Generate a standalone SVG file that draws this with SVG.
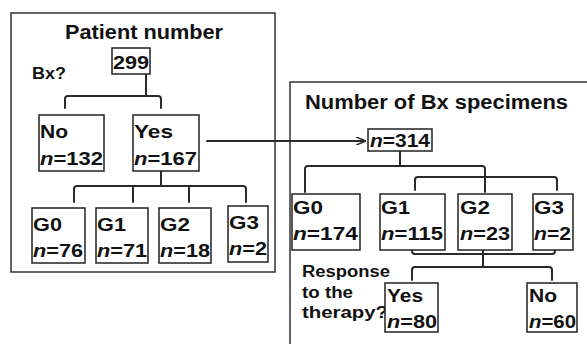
<svg xmlns="http://www.w3.org/2000/svg" width="587" height="344" viewBox="0 0 587 344">
<defs>
<style>
.panel{fill:none;stroke:#333;stroke-width:1.5}
.box{fill:#fff;stroke:#222;stroke-width:1.5}
.ln{fill:none;stroke:#2a2a2a;stroke-width:2;stroke-linejoin:round;stroke-linecap:round}
.t{font-family:"Liberation Sans",Arial,sans-serif;font-weight:bold;font-size:19px;fill:#111}
.ttl{font-family:"Liberation Sans",Arial,sans-serif;font-weight:bold;font-size:20px;fill:#111}
.sm{font-family:"Liberation Sans",Arial,sans-serif;font-weight:bold;font-size:16px;fill:#111}
.i{font-style:italic}
</style>
<marker id="ah" markerWidth="10" markerHeight="8" refX="9" refY="4" orient="auto" markerUnits="userSpaceOnUse">
<path d="M0,0 L10,4 L0,8" fill="none" stroke="#2a2a2a" stroke-width="1.6"/>
</marker>
</defs>
<rect width="587" height="344" fill="#fff"/>

<g id="panel-left">
<rect class="panel" x="11" y="13" width="264" height="259"/>
<text class="ttl" x="65" y="39" textLength="158" lengthAdjust="spacingAndGlyphs">Patient number</text>
<text class="sm" x="32" y="79" textLength="34" lengthAdjust="spacingAndGlyphs">Bx?</text>
</g>

<g id="panel-right">
<rect class="panel" x="290" y="82" width="310" height="280"/>
<text class="ttl" x="305" y="109" textLength="263" lengthAdjust="spacingAndGlyphs">Number of Bx specimens</text>
<text class="sm" x="302" y="277" textLength="88" lengthAdjust="spacingAndGlyphs">Response</text>
<text class="sm" x="302" y="298" textLength="51" lengthAdjust="spacingAndGlyphs">to the</text>
<text class="sm" x="302" y="318" textLength="86" lengthAdjust="spacingAndGlyphs">therapy?</text>
</g>

<g id="connectors">
<path class="ln" d="M146,74 V96 M65,108 V99 Q65,96 68,96 H158 Q161,96 161,99 V108"/>
<path class="ln" d="M161,171 V186 M74,202 V189 Q74,186 77,186 H243 Q246,186 246,189 V202 M133,186 V202 M189,186 V202"/>
<path class="ln" d="M207,141 H365" stroke-width="1.8" marker-end="url(#ah)"/>
<path class="ln" d="M400,151 V166 M305,192 V169 Q305,166 308,166 H482 Q485,166 485,169 V192 M415,190 V180 Q415,177 418,177 H554 Q557,177 557,180 V190"/>
<path class="ln" d="M412,250 V251 Q412,254 415,254 H552 Q555,254 555,251 V250 M483,250 V267 M412,280 V270 Q412,267 415,267 H549 Q552,267 552,270 V280"/>
</g>

<g id="n299">
<rect class="box" x="112" y="48" width="38" height="26"/>
<text class="t" x="113" y="69" textLength="36" lengthAdjust="spacingAndGlyphs">299</text>
</g>
<g id="bx-no">
<rect class="box" x="39" y="115" width="65" height="56"/>
<text class="t" x="40" y="138" textLength="28" lengthAdjust="spacingAndGlyphs">No</text>
<text class="t" x="40" y="165" textLength="63" lengthAdjust="spacingAndGlyphs"><tspan class="i">n</tspan>=132</text>
</g>
<g id="bx-yes">
<rect class="box" x="133" y="115" width="66" height="56"/>
<text class="t" x="134" y="138" textLength="39" lengthAdjust="spacingAndGlyphs">Yes</text>
<text class="t" x="134" y="165" textLength="63" lengthAdjust="spacingAndGlyphs"><tspan class="i">n</tspan>=167</text>
</g>
<g id="l-g0">
<rect class="box" x="32" y="208" width="53" height="55"/>
<text class="t" x="33" y="231" textLength="29" lengthAdjust="spacingAndGlyphs">G0</text>
<text class="t" x="33" y="257" textLength="50" lengthAdjust="spacingAndGlyphs"><tspan class="i">n</tspan>=76</text>
</g>
<g id="l-g1">
<rect class="box" x="96" y="208" width="52" height="55"/>
<text class="t" x="97" y="231" textLength="29" lengthAdjust="spacingAndGlyphs">G1</text>
<text class="t" x="97" y="257" textLength="50" lengthAdjust="spacingAndGlyphs"><tspan class="i">n</tspan>=71</text>
</g>
<g id="l-g2">
<rect class="box" x="159" y="208" width="52" height="55"/>
<text class="t" x="160" y="231" textLength="30" lengthAdjust="spacingAndGlyphs">G2</text>
<text class="t" x="160" y="257" textLength="50" lengthAdjust="spacingAndGlyphs"><tspan class="i">n</tspan>=18</text>
</g>
<g id="l-g3">
<rect class="box" x="228" y="206" width="40" height="56"/>
<text class="t" x="229" y="229" textLength="30" lengthAdjust="spacingAndGlyphs">G3</text>
<text class="t" x="229" y="255" textLength="38" lengthAdjust="spacingAndGlyphs"><tspan class="i">n</tspan>=2</text>
</g>

<g id="n314">
<rect class="box" x="368" y="129" width="64" height="22"/>
<text class="t" x="370" y="147" textLength="60" lengthAdjust="spacingAndGlyphs"><tspan class="i">n</tspan>=314</text>
</g>
<g id="r-g0">
<rect class="box" x="292" y="194" width="68" height="56"/>
<text class="t" x="293" y="214" textLength="30" lengthAdjust="spacingAndGlyphs">G0</text>
<text class="t" x="293" y="240" textLength="65" lengthAdjust="spacingAndGlyphs"><tspan class="i">n</tspan>=174</text>
</g>
<g id="r-g1">
<rect class="box" x="380" y="194" width="65" height="56"/>
<text class="t" x="381" y="214" textLength="29" lengthAdjust="spacingAndGlyphs">G1</text>
<text class="t" x="381" y="240" textLength="62" lengthAdjust="spacingAndGlyphs"><tspan class="i">n</tspan>=115</text>
</g>
<g id="r-g2">
<rect class="box" x="458" y="194" width="54" height="56"/>
<text class="t" x="460" y="214" textLength="30" lengthAdjust="spacingAndGlyphs">G2</text>
<text class="t" x="460" y="240" textLength="50" lengthAdjust="spacingAndGlyphs"><tspan class="i">n</tspan>=23</text>
</g>
<g id="r-g3">
<rect class="box" x="533" y="194" width="40" height="56"/>
<text class="t" x="534" y="214" textLength="30" lengthAdjust="spacingAndGlyphs">G3</text>
<text class="t" x="534" y="240" textLength="37" lengthAdjust="spacingAndGlyphs"><tspan class="i">n</tspan>=2</text>
</g>
<g id="resp-yes">
<rect class="box" x="385" y="283" width="53" height="49"/>
<text class="t" x="387" y="302" textLength="36" lengthAdjust="spacingAndGlyphs">Yes</text>
<text class="t" x="387" y="328" textLength="50" lengthAdjust="spacingAndGlyphs"><tspan class="i">n</tspan>=80</text>
</g>
<g id="resp-no">
<rect class="box" x="527" y="283" width="50" height="49"/>
<text class="t" x="529" y="302" textLength="28" lengthAdjust="spacingAndGlyphs">No</text>
<text class="t" x="529" y="328" textLength="47" lengthAdjust="spacingAndGlyphs"><tspan class="i">n</tspan>=60</text>
</g>
</svg>
